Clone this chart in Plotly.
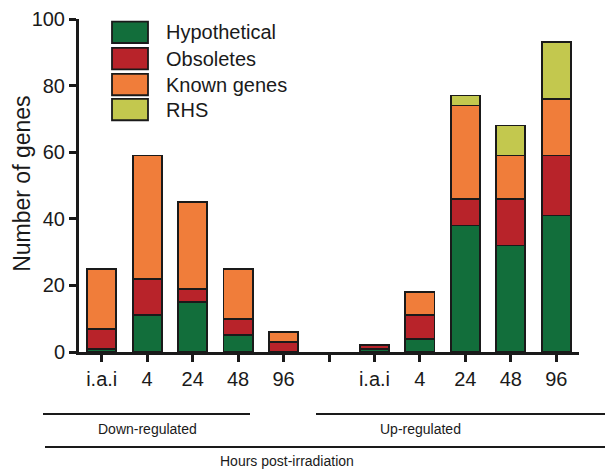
import plotly.graph_objects as go

# ---- data ----
tick_labels = ["i.a.i", "4", "24", "48", "96", "", "i.a.i", "4", "24", "48", "96"]
hypothetical = [1, 11, 15, 5, None, None, 1, 4, 38, 32, 41]
obsoletes = [6, 11, 4, 5, 3, None, 1, 7, 8, 14, 18]
known_genes = [18, 37, 26, 15, 3, None, None, 7, 28, 13, 17]
rhs = [None, None, None, None, None, None, None, None, 3, 9, 17]
series_names = ["Hypothetical", "Obsoletes", "Known genes", "RHS"]
series_colors = ["#126E3B", "#B8232A", "#F07D3A", "#C3C84E"]
y_ticks = [0, 20, 40, 60, 80, 100]
group_labels = ["Down-regulated", "Up-regulated"]
x_title = "Hours post-irradiation"
y_title = "Number of genes"

FONT = "Liberation Sans, Arial, Helvetica, sans-serif"
INK = "#1a1a1a"

positions = list(range(len(tick_labels)))
fig = go.Figure()
for name, vals, col in zip(series_names, [hypothetical, obsoletes, known_genes, rhs], series_colors):
    fig.add_trace(go.Bar(
        x=positions, y=vals, name=name,
        marker=dict(color=col, line=dict(color=INK, width=1.8)),
        width=0.64, showlegend=False,
    ))

fig.update_layout(
    barmode="stack",
    width=605, height=462,
    margin=dict(l=71, r=34, t=11, b=118),
    paper_bgcolor="white", plot_bgcolor="white",
    font=dict(family=FONT, color=INK),
    xaxis=dict(
        range=[-0.5, 10.5], tickmode="array", tickvals=positions, ticktext=tick_labels,
        showline=True, linecolor=INK, linewidth=3, ticks="outside", ticklen=7,
        tickwidth=3, tickcolor=INK, tickfont=dict(size=20, family=FONT, color=INK),
        showgrid=False, zeroline=False, automargin=False,
    ),
    yaxis=dict(
        range=[0, 100], tickmode="array", tickvals=y_ticks,
        showline=True, linecolor=INK, linewidth=3, ticks="outside", ticklen=7,
        tickwidth=3, tickcolor=INK, tickfont=dict(size=20, family=FONT, color=INK),
        showgrid=False, zeroline=False, automargin=False,
    ),
)

def ann(x, y, text, size, **kw):
    fig.add_annotation(xref="paper", yref="paper", x=x, y=y, text=text, showarrow=False,
                       xanchor=kw.pop("xanchor", "center"), yanchor="middle",
                       font=dict(size=size, family=FONT, color=INK), **kw)

# y-axis title
ann(-0.114, 0.505, y_title, 23, textangle=-90)

# manual legend
box_tops = [0.992, 0.913, 0.835, 0.760]
for name, col, top in zip(series_names, series_colors, box_tops):
    fig.add_shape(type="rect", xref="paper", yref="paper", x0=0.066, x1=0.138,
                  y0=top - 0.064, y1=top, fillcolor=col, line=dict(color=INK, width=1.8))
    ann(0.170, top - 0.032, name, 20, xanchor="left")

# group brackets
line_style = dict(color=INK, width=2)
fig.add_shape(type="line", xref="paper", yref="paper", x0=-0.072, x1=0.342, y0=-0.186, y1=-0.186, line=line_style)
fig.add_shape(type="line", xref="paper", yref="paper", x0=0.474, x1=1.07, y0=-0.186, y1=-0.186, line=line_style)
fig.add_shape(type="line", xref="paper", yref="paper", x0=-0.068, x1=1.07, y0=-0.285, y1=-0.285, line=line_style)
ann(0.136, -0.231, group_labels[0], 14)
ann(0.682, -0.231, group_labels[1], 14)
ann(0.416, -0.327, x_title, 14)

fig.write_html("out.html")
